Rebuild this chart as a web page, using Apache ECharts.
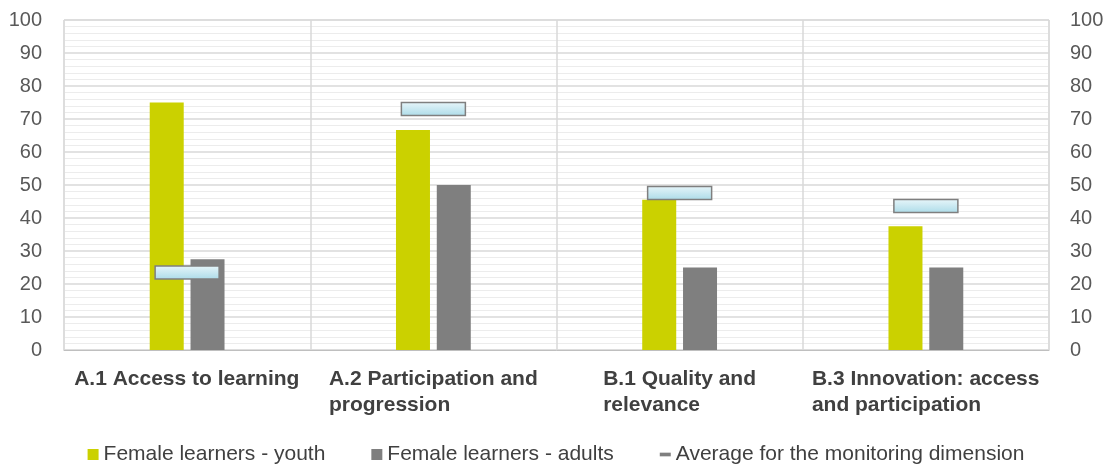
<!DOCTYPE html>
<html>
<head>
<meta charset="utf-8">
<script src="https://cdn.jsdelivr.net/npm/echarts@6/dist/echarts.min.js"></script>
<style>
html,body{margin:0;padding:0;background:#fff;}
#chart{width:1112px;height:464px;}
</style>
</head>
<body>
<div id="chart"></div>
<script>
const categories = ["A.1 Access to learning", "A.2 Participation and\nprogression", "B.1 Quality and\nrelevance", "B.3 Innovation: access\nand participation"];
const youth = [75, 66.7, 45.5, 37.5];
const adults = [27.5, 50, 25, 25];
const average = [23.5, 73, 47.6, 43.6];
const yTicks = [0, 10, 20, 30, 40, 50, 60, 70, 80, 90, 100];
const seriesNames = ["Female learners - youth", "Female learners - adults", "Average for the monitoring dimension"];

const FONT = "Arial, 'Liberation Sans', sans-serif";
const catFontSize = 21;
const ctx = document.createElement('canvas').getContext('2d');
ctx.font = "bold " + catFontSize + "px Arial, 'Liberation Sans', sans-serif";
const rich = {};
categories.forEach((c, i) => {
  const w = Math.max(...c.split('\n').map(l => ctx.measureText(l).width));
  rich['c' + i] = {fontFamily: FONT, fontWeight: 'bold', fontSize: catFontSize, color: '#404040', lineHeight: 26, width: Math.ceil(w), align: 'left'};
});

const avgFill = new echarts.graphic.LinearGradient(0, 0, 0, 1, [{offset: 0, color: '#e8f6fa'}, {offset: 1, color: '#abdbe8'}]);

const chart = echarts.init(document.getElementById('chart'));
chart.setOption({
  animation: false,
  backgroundColor: '#fff',
  textStyle: {fontFamily: FONT},
  grid: {left: 64, right: 63, top: 20, bottom: 114, show: true, borderColor: '#d9d9d9', borderWidth: 1},
  legend: {
    top: 439, left: 'center', itemGap: 46, itemWidth: 11, itemHeight: 11,
    textStyle: {fontFamily: FONT, fontSize: 21, color: '#404040'},
    data: [
      {name: seriesNames[0], icon: 'rect'},
      {name: seriesNames[1], icon: 'rect'},
      {name: seriesNames[2], icon: 'path://M0,0 H12 V4 H0 Z', itemStyle: {color: '#7f7f7f', borderWidth: 0}}
    ]
  },
  xAxis: {
    type: 'category', data: categories,
    axisLine: {show: true, lineStyle: {color: '#bfbfbf'}},
    axisTick: {show: false},
    splitLine: {show: true, lineStyle: {color: '#d9d9d9', width: 1.5}},
    axisLabel: {
      interval: 0, margin: 16,
      formatter: (v, i) => v.split('\n').map(l => '{c' + i + '|' + l + '}').join('\n'),
      rich: rich
    }
  },
  yAxis: [
    {
      type: 'value', min: 0, max: 100, interval: 10,
      axisLine: {show: false}, axisTick: {show: false},
      axisLabel: {fontSize: 20, color: '#595959', margin: 22, fontFamily: FONT},
      splitLine: {lineStyle: {color: '#d9d9d9', width: 1.5}},
      minorTick: {show: false, splitNumber: 5},
      minorSplitLine: {show: true, lineStyle: {color: '#ececec', width: 1}}
    },
    {
      type: 'value', min: 0, max: 100, interval: 10, position: 'right',
      axisLine: {show: false}, axisTick: {show: false},
      axisLabel: {fontSize: 20, color: '#595959', margin: 21, fontFamily: FONT},
      splitLine: {show: false}
    }
  ],
  series: [
    {name: seriesNames[0], type: 'bar', data: youth, barWidth: 34, barGap: '20%', itemStyle: {color: '#cbd100'}},
    {name: seriesNames[1], type: 'bar', data: adults, barWidth: 34, barGap: '20%', itemStyle: {color: '#7f7f7f'}},
    {
      name: seriesNames[2], type: 'custom', z: 5,
      data: average.map((v, i) => [i, v]),
      itemStyle: {color: '#7f7f7f'},
      renderItem: (params, api) => {
        const p = api.coord([api.value(0), api.value(1)]);
        return {
          type: 'rect',
          shape: {x: p[0] - 32, y: p[1] - 6.5, width: 64, height: 13},
          style: {fill: avgFill, stroke: '#7f7f7f', lineWidth: 1.5}
        };
      }
    }
  ]
});
</script>
</body>
</html>
